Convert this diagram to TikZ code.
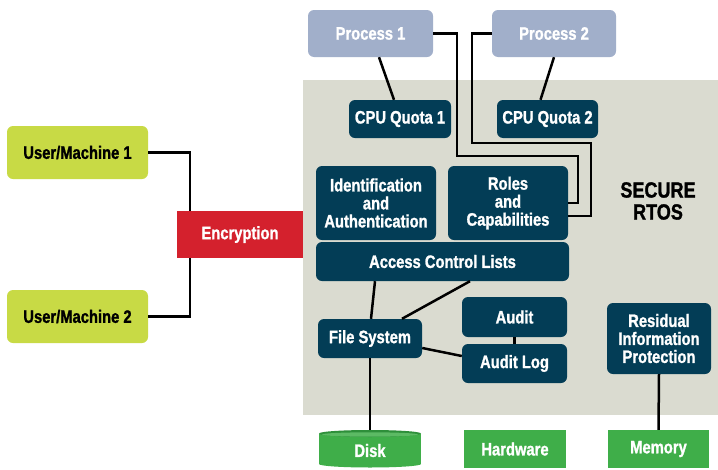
\documentclass[tikz,border=0pt]{standalone}
\usepackage{fontspec}
\setmainfont[FakeStretch=0.82, BoldFeatures={FakeBold=1.2}]{Liberation Sans}
\definecolor{bggray}{HTML}{DADBD0}
\definecolor{navy}{HTML}{033D56}
\definecolor{procblue}{HTML}{A1AFCA}
\definecolor{lime}{HTML}{C8DA45}
\definecolor{gr}{HTML}{3FAE49}
\definecolor{grdark}{HTML}{2E8F3A}
\definecolor{encred}{HTML}{D4212D}
\begin{document}
\begin{tikzpicture}[x=1pt,y=-1pt,
  box/.style={rounded corners=6pt, inner sep=0pt, align=center, font=\fontsize{18}{18}\selectfont\bfseries},
  navybox/.style={box, fill=navy, text=white},
  procbox/.style={box, fill=procblue, text=white},
  userbox/.style={box, fill=lime, text=black},
  greenbox/.style={box, rounded corners=0pt, fill=gr, text=white},
  wire/.style={line width=2.5pt, black}]
\useasboundingbox (0,0) rectangle (718,469);
\fill[bggray] (303,80) rectangle (718,415);

\node[procbox, minimum width=125, minimum height=47] (proc1) at (370.5,33.5) {Process 1};
\node[procbox, minimum width=124, minimum height=47] (proc2) at (554,33.5) {Process 2};
\node[navybox, minimum width=102, minimum height=38] (cpu1) at (400,119) {CPU Quota 1};
\node[navybox, minimum width=101, minimum height=38] (cpu2) at (547.5,119) {CPU Quota 2};
\node[navybox, minimum width=120, minimum height=74] (ident) at (376,203) {Identification\\and\\Authentication};
\node[navybox, minimum width=120, minimum height=74] (roles) at (508,203) {Roles\\and\\Capabilities};
\node[navybox, minimum width=253, minimum height=39] (acl) at (442.5,261.5) {Access Control Lists};
\node[navybox, minimum width=104, minimum height=39] (fs) at (370,338.5) {File System};
\node[navybox, minimum width=105, minimum height=40] (audit) at (514.5,317) {Audit};
\node[navybox, minimum width=105, minimum height=39] (auditlog) at (514.5,363.5) {Audit Log};
\node[navybox, minimum width=104, minimum height=71] (rip) at (659,338.5) {Residual\\Information\\Protection};
\node[userbox, minimum width=141, minimum height=53] (um1) at (77.5,152.5) {User/Machine 1};
\node[userbox, minimum width=141, minimum height=53] (um2) at (77.5,316.5) {User/Machine 2};
\node[box, rounded corners=0pt, fill=encred, text=white, minimum width=126, minimum height=47] (enc) at (240,234.5) {Encryption};
\node[greenbox, minimum width=102, minimum height=38] (hw) at (515,449) {Hardware};
\node[greenbox, minimum width=101, minimum height=38] (mem) at (658.5,449) {Memory};

% disk cylinder
\fill[gr] (319,433.5) rectangle (421,464);
\fill[gr] (370,464) ellipse (51 and 3.5);
\fill[grdark] (370,433.5) ellipse (51 and 3.5);
\fill[gr!85!white] (370,434.5) ellipse (48 and 2.2);
\node[box, text=white, minimum width=102, minimum height=34] (disk) at (370,450.5) {Disk};

\node[font=\fontsize{22}{22}\selectfont\bfseries, align=center, text=black] (rtos) at (658,201) {SECURE\\RTOS};

% connectors
\draw[wire] ([xshift=8.5pt]proc1.south) -- ([xshift=-6pt]cpu1.north);
\draw[wire] (proc2.south) -- ([xshift=-7pt]cpu2.north);
\draw[wire] (proc1.east) -| (457,156) -| (578,203) -- (roles.east);
\draw[wire] (proc2.west) -| (472,143) -| (591,216) -- ([yshift=-13pt]roles.east);
\draw[wire] ([xshift=-67.5pt]acl.south) -- ([xshift=1pt]fs.north);
\draw[wire] ([xshift=27.5pt]acl.south) -- ([xshift=32pt]fs.north);
\draw[wire] (audit.south) -- (auditlog.north);
\draw[wire] ([yshift=-9.5pt]fs.east) -- ([yshift=7.5pt]auditlog.west);
\draw[wire] (fs.south) -- ([yshift=3pt]disk.north);
\draw[wire] (rip.south) -- (mem.north);
\draw[wire] (um1.east) -| ([xshift=-50pt]enc.north);
\draw[wire] (um2.east) -| ([xshift=-50pt]enc.south);
\end{tikzpicture}
\end{document}
